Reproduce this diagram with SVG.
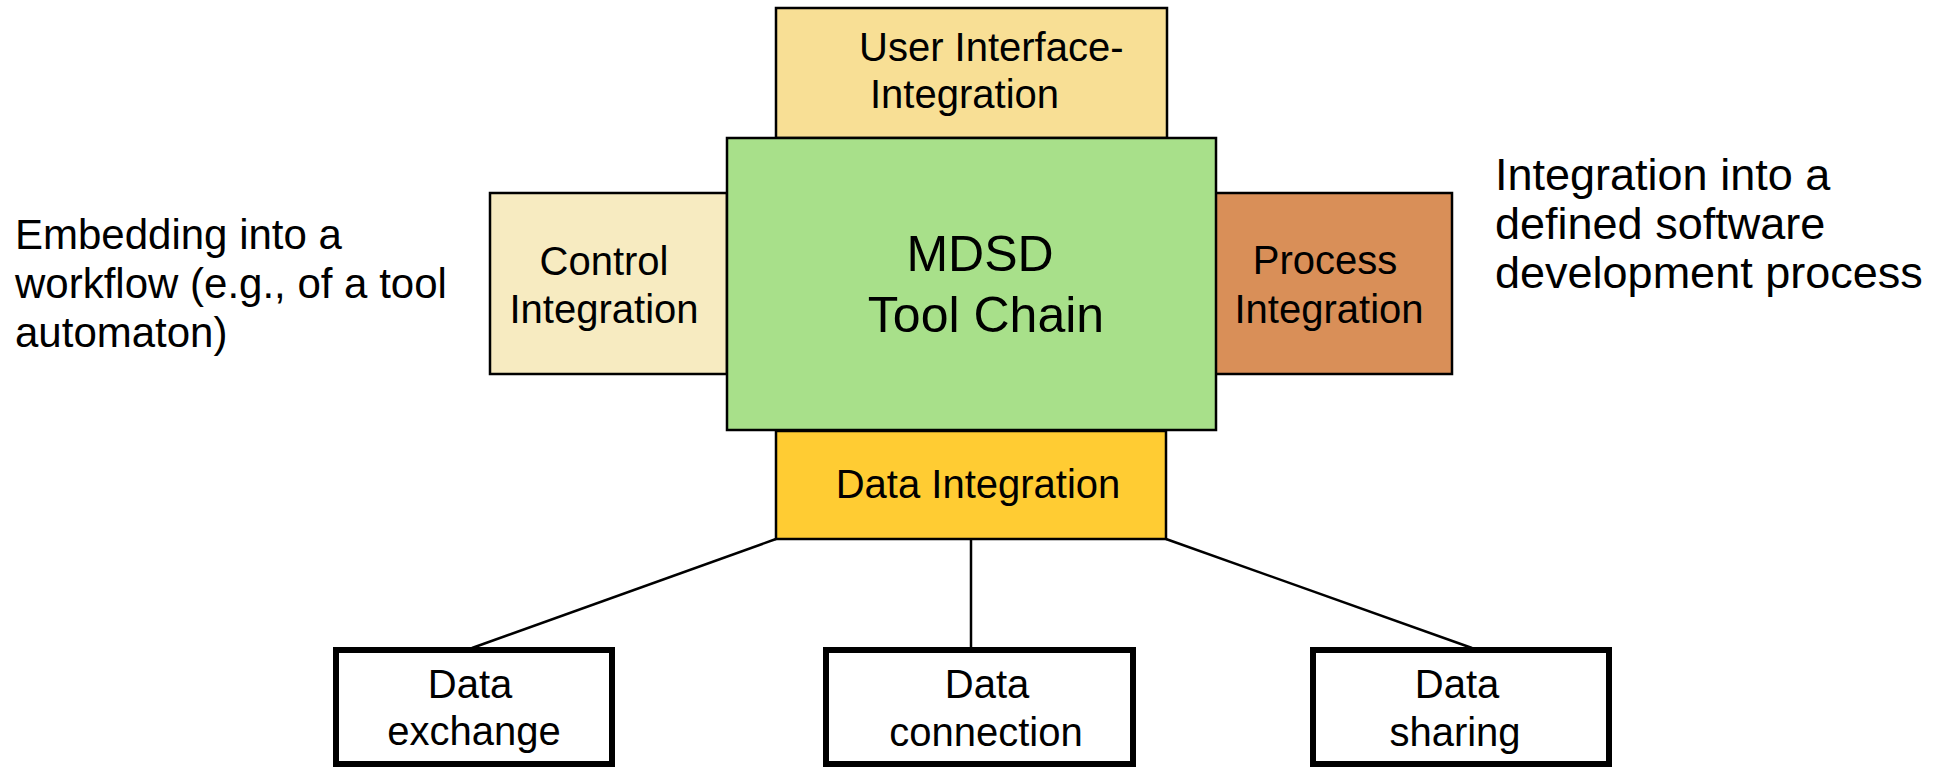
<svg xmlns="http://www.w3.org/2000/svg" width="1947" height="768" viewBox="0 0 1947 768">
<style>
  .box { stroke: #000; stroke-width: 2.5; }
  .leaf { fill: #fff; stroke: #000; stroke-width: 6; }
  .t { font-family: "Liberation Sans", Arial, sans-serif; fill: #000; }
  .lbl { font-size: 40px; text-anchor: middle; }
  .conn { stroke: #000; stroke-width: 2.5; fill: none; }
</style>
<rect width="1947" height="768" fill="#fff"/>
<g id="connectors">
  <line class="conn" x1="776" y1="539" x2="472" y2="648"/>
  <line class="conn" x1="971" y1="539" x2="971" y2="648"/>
  <line class="conn" x1="1166" y1="539" x2="1472" y2="648"/>
</g>
<g id="ui-integration">
  <rect class="box" x="776" y="8" width="391" height="130" fill="#F8DF95"/>
  <text class="t" font-size="40" x="859" y="61">User Interface-</text>
  <text class="t" font-size="40" x="870" y="108">Integration</text>
</g>
<g id="control-integration">
  <rect class="box" x="490" y="193" width="237" height="181" fill="#F7EBC1"/>
  <text class="t lbl" x="604" y="275">Control</text>
  <text class="t lbl" x="604" y="323">Integration</text>
</g>
<g id="process-integration">
  <rect class="box" x="1215" y="193" width="237" height="181" fill="#D98F58"/>
  <text class="t lbl" x="1325" y="274">Process</text>
  <text class="t lbl" x="1329" y="323">Integration</text>
</g>
<g id="data-integration">
  <rect class="box" x="776" y="431" width="390" height="108" fill="#FFCC33"/>
  <text class="t lbl" x="978" y="498">Data Integration</text>
</g>
<g id="mdsd-tool-chain">
  <rect class="box" x="727" y="138" width="489" height="292" fill="#A8E08A"/>
  <text class="t" font-size="50" text-anchor="middle" x="980" y="271">MDSD</text>
  <text class="t" font-size="50" text-anchor="middle" x="986" y="332">Tool Chain</text>
</g>
<g id="data-exchange">
  <rect class="leaf" x="336" y="650" width="276" height="114"/>
  <text class="t lbl" x="470" y="698">Data</text>
  <text class="t lbl" x="474" y="745">exchange</text>
</g>
<g id="data-connection">
  <rect class="leaf" x="826" y="650" width="307" height="114"/>
  <text class="t lbl" x="987" y="698">Data</text>
  <text class="t lbl" x="986" y="746">connection</text>
</g>
<g id="data-sharing">
  <rect class="leaf" x="1313" y="650" width="296" height="114"/>
  <text class="t lbl" x="1457" y="698">Data</text>
  <text class="t lbl" x="1455" y="746">sharing</text>
</g>
<g id="note-control">
  <text class="t" font-size="42" x="15" y="249">Embedding into a</text>
  <text class="t" font-size="42" x="15" y="298">workflow (e.g., of a tool</text>
  <text class="t" font-size="42" x="15" y="347">automaton)</text>
</g>
<g id="note-process">
  <text class="t" font-size="45" x="1495" y="190">Integration into a</text>
  <text class="t" font-size="45" x="1495" y="239">defined software</text>
  <text class="t" font-size="45" x="1495" y="288">development process</text>
</g>
</svg>
